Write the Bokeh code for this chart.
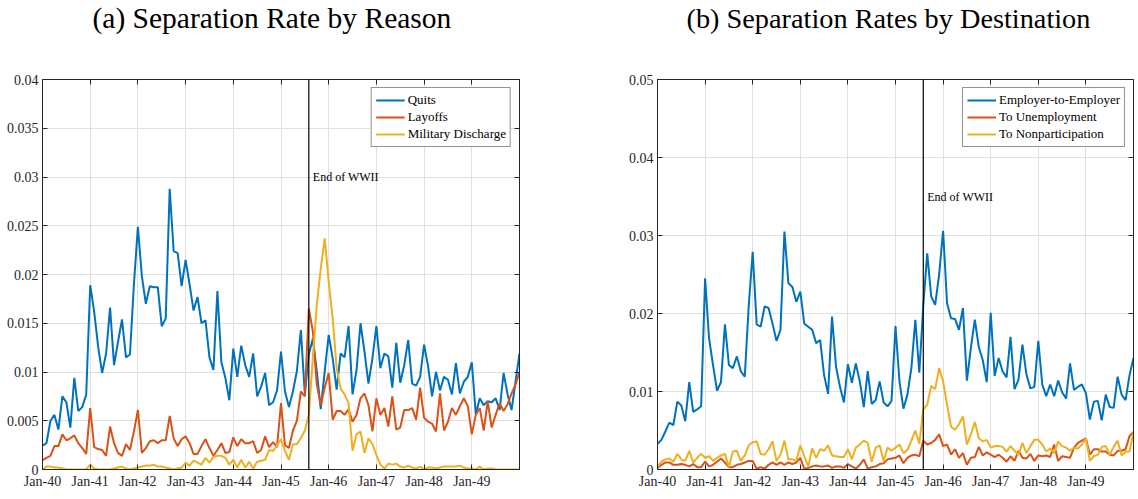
from bokeh.plotting import figure
from bokeh.models import Range1d, FixedTicker, LinearAxis, Span, Label, Legend, LegendItem, Title
from bokeh.layouts import row
from bokeh.embed import file_html
from bokeh.resources import INLINE

# ---------------- data ----------------
months = list(range(121))  # Jan-1940 ... Jan-1950, monthly index
x_ticks = [0, 12, 24, 36, 48, 60, 72, 84, 96, 108]
x_tick_labels = ["Jan-40", "Jan-41", "Jan-42", "Jan-43", "Jan-44",
                 "Jan-45", "Jan-46", "Jan-47", "Jan-48", "Jan-49"]
wwii_end_month = 67  # Aug-45
wwii_label = "End of WWII"

left_title = "(a) Separation Rate by Reason"
left_y_ticks = [0, 0.005, 0.01, 0.015, 0.02, 0.025, 0.03, 0.035, 0.04]
left_y_labels = ["0", "0.005", "0.01", "0.015", "0.02", "0.025", "0.03", "0.035", "0.04"]
left_names = ["Quits", "Layoffs", "Military Discharge"]

quits = [0.00245, 0.0027, 0.005, 0.0056, 0.0041, 0.0075, 0.0069, 0.0043, 0.0094, 0.006, 0.0064, 0.0077,
         0.0189, 0.0162, 0.0126, 0.0099, 0.0119, 0.0166, 0.0107, 0.0131, 0.0154, 0.0115, 0.0118, 0.019,
         0.0249, 0.0198, 0.017, 0.0188, 0.0187, 0.0187, 0.0147, 0.0155, 0.0288, 0.0224, 0.0222, 0.0188,
         0.0215, 0.019, 0.0163, 0.0177, 0.015, 0.0153, 0.0115, 0.0102, 0.0183, 0.011, 0.0094, 0.0071,
         0.0124, 0.0095, 0.0127, 0.0107, 0.0095, 0.0119, 0.0075, 0.0085, 0.0099, 0.0066, 0.0069, 0.0081,
         0.0121, 0.008, 0.0064, 0.008, 0.0101, 0.0143, 0.0077, 0.0118, 0.0134, 0.0101, 0.0062, 0.0101,
         0.0138, 0.0114, 0.0082, 0.0119, 0.0115, 0.0147, 0.0077, 0.0102, 0.015, 0.0121, 0.0088, 0.0114,
         0.0147, 0.0104, 0.0119, 0.0116, 0.0084, 0.013, 0.0089, 0.0107, 0.0133, 0.0088, 0.0086, 0.0095,
         0.0128, 0.0106, 0.0075, 0.01, 0.0081, 0.0095, 0.0092, 0.0077, 0.0109, 0.0078, 0.009, 0.0095,
         0.011, 0.0057, 0.0073, 0.0066, 0.007, 0.0069, 0.0073, 0.0061, 0.0099, 0.0077, 0.0061, 0.009, 0.0119]

layoffs = [0.00095, 0.0012, 0.0014, 0.0024, 0.0024, 0.0036, 0.003, 0.0032, 0.0035, 0.0027, 0.0022, 0.0016,
           0.0063, 0.0023, 0.0021, 0.002, 0.0014, 0.0044, 0.0027, 0.0017, 0.0014, 0.0026, 0.002, 0.0039,
           0.0061, 0.0017, 0.0022, 0.0029, 0.003, 0.0027, 0.003, 0.003, 0.0055, 0.0032, 0.0024, 0.0031,
           0.0034, 0.0027, 0.0016, 0.0016, 0.0024, 0.0031, 0.0022, 0.0014, 0.002, 0.0027, 0.0017, 0.0018,
           0.0033, 0.0024, 0.0031, 0.0027, 0.0027, 0.0029, 0.0017, 0.002, 0.0034, 0.0023, 0.0028, 0.0023,
           0.0068, 0.0025, 0.0022, 0.004, 0.005, 0.008, 0.0075, 0.0165, 0.0142, 0.0087, 0.0066, 0.0084,
           0.0099, 0.0051, 0.006, 0.006, 0.0056, 0.0062, 0.0049, 0.0056, 0.0073, 0.0078, 0.0066, 0.0039,
           0.0073, 0.0056, 0.0063, 0.0044, 0.0075, 0.0041, 0.0043, 0.0061, 0.0061, 0.0063, 0.0051, 0.0084,
           0.0053, 0.0049, 0.0047, 0.0039, 0.0078, 0.004, 0.0049, 0.0063, 0.0056, 0.0065, 0.0073, 0.0065,
           0.0036, 0.0056, 0.0063, 0.004, 0.007, 0.0043, 0.0056, 0.0068, 0.006, 0.0067, 0.0078, 0.0087, 0.01]

military = [0, 0.0003, 0.0003, 0.0002, 0.0002, 0.0001, 0, 0, 0, 0, 0, 0,
            0.0005, 0.0001, 0, 0, 0, 0, 0.0001, 0.0002, 0.0003, 0.0001, 0, 0.0001,
            0.0002, 0.0003, 0.0004, 0.0004, 0.0005, 0.0003, 0.0003, 0.0002, 0.0001, 0, 0.0001, 0.0002,
            0.0007, 0.0004, 0.0009, 0.0007, 0.0005, 0.0012, 0.0007, 0.0013, 0.0014, 0.0014, 0.0012, 0.0005,
            0.001, 0.0002, 0.001, 0.0002, 0.0008, 0.0001, 0.0008, 0.0009, 0.001, 0.002, 0.0019, 0.0025,
            0.0031, 0.0019, 0.001, 0.0026, 0.0026, 0.0032, 0.004, 0.0056, 0.0114, 0.0169, 0.0206, 0.0237,
            0.0193, 0.0155, 0.0104, 0.0083, 0.0077, 0.0068, 0.0019, 0.0036, 0.0039, 0.0017, 0.0032, 0.0026,
            0.0015, 0.0005, 0.0001, 0.0006, 0.0005, 0.0006, 0.0003, 0.0002, 0.0004, 0.0002, 0.0001, 0.0003,
            0, 0.0002, 0.0002, 0.0001, 0.0002, 0.0003, 0.0003, 0.0003, 0.0003, 0.0004, 0.0002, 0.0001,
            0.0001, 0, 0.0003, 0, 0.0001, 0.0001, 0, 0, 0, 0, 0, 0, 0]

right_title = "(b) Separation Rates by Destination"
right_y_ticks = [0, 0.01, 0.02, 0.03, 0.04, 0.05]
right_y_labels = ["0", "0.01", "0.02", "0.03", "0.04", "0.05"]
right_names = ["Employer-to-Employer", "To Unemployment", "To Nonparticipation"]

e2e = [0.0033, 0.0038, 0.0049, 0.006, 0.0057, 0.0087, 0.0082, 0.0062, 0.0112, 0.0074, 0.0077, 0.0081,
       0.0245, 0.0168, 0.0134, 0.0101, 0.0112, 0.0186, 0.0134, 0.013, 0.0145, 0.0126, 0.0119, 0.021,
       0.0279, 0.0186, 0.0183, 0.0209, 0.0207, 0.0187, 0.0165, 0.0179, 0.0305, 0.0239, 0.0234, 0.0215,
       0.0228, 0.0187, 0.0183, 0.0179, 0.0162, 0.0166, 0.0121, 0.0097, 0.0196, 0.0132, 0.0106, 0.0086,
       0.0135, 0.0111, 0.0136, 0.0113, 0.008, 0.0126, 0.0084, 0.0089, 0.0113, 0.0086, 0.0081, 0.0088,
       0.0184, 0.0113, 0.0078, 0.0096, 0.013, 0.0192, 0.0124, 0.021, 0.0277, 0.0222, 0.0211, 0.025,
       0.0306, 0.0213, 0.0194, 0.0193, 0.0179, 0.0207, 0.0114, 0.0156, 0.0192, 0.0157, 0.014, 0.0112,
       0.0201, 0.012, 0.0143, 0.0126, 0.0118, 0.017, 0.0103, 0.0115, 0.016, 0.0122, 0.0104, 0.0106,
       0.0165, 0.0109, 0.0094, 0.0109, 0.0094, 0.0114, 0.0099, 0.0091, 0.0136, 0.0102, 0.0106, 0.0109,
       0.0098, 0.0064, 0.0087, 0.0088, 0.0063, 0.0096, 0.008, 0.0079, 0.0119, 0.0096, 0.0089, 0.0121, 0.0143]

to_unemp = [0.0002, 0.0006, 0.0009, 0.0009, 0.0006, 0.0006, 0.0007, 0.0006, 0.0004, 0.0007, 0.0003, 0.0003,
            0.001, 0.0004, 0.0006, 0.001, 0.0014, 0.0009, 0.0003, 0.0003, 0.0006, 0.0007, 0.0009, 0.0011,
            0.0011, 0.0001, 0.0003, 0.0001, 0.0006, 0.0009, 0.0006, 0.0009, 0.0006, 0.0009, 0.0007, 0.0009,
            0.0015, 0.0001, 0.0002, 0.0004, 0.0005, 0.0004, 0.0004, 0.0005, 0.0002, 0.0004, 0.0004, 0.0002,
            0.0007, 0.0004, 0.0001, 0.0006, 0.0013, 0.0001, 0.0003, 0.0004, 0.0007, 0.0008, 0.0013, 0.0014,
            0.0015, 0.0018, 0.0008, 0.0015, 0.0018, 0.0019, 0.0017, 0.0037, 0.0032, 0.0034, 0.0038, 0.0045,
            0.003, 0.0032, 0.0019, 0.0026, 0.0015, 0.0021, 0.0006, 0.0015, 0.0016, 0.0029, 0.0018, 0.0022,
            0.0019, 0.0016, 0.0019, 0.0015, 0.001, 0.0017, 0.0011, 0.0024, 0.0015, 0.0014, 0.002, 0.0011,
            0.0018, 0.0017, 0.0018, 0.0016, 0.0032, 0.0011, 0.0017, 0.0016, 0.0015, 0.0028, 0.0034, 0.0037,
            0.004, 0.0019, 0.0026, 0.0026, 0.0023, 0.0023, 0.0019, 0.0018, 0.0024, 0.0024, 0.0026, 0.0043, 0.0048]

to_nonpart = [0.0004, 0.001, 0.0013, 0.0014, 0.001, 0.002, 0.0013, 0.0011, 0.0024, 0.0009, 0.0015, 0.002,
              0.0015, 0.0017, 0.0011, 0.0015, 0.0018, 0.002, 0.0003, 0.0023, 0.0024, 0.0011, 0.0018, 0.0031,
              0.0035, 0.0036, 0.002, 0.0019, 0.0026, 0.0036, 0.0011, 0.0019, 0.0037, 0.0013, 0.0013, 0.0011,
              0.0031, 0.0017, 0.0004, 0.0027, 0.0015, 0.0026, 0.0024, 0.0031, 0.0018, 0.0017, 0.0016, 0.0016,
              0.0026, 0.0013, 0.0028, 0.0032, 0.0037, 0.0034, 0.001, 0.0028, 0.0031, 0.0011, 0.0028, 0.0024,
              0.0028, 0.0032, 0.0021, 0.0025, 0.0037, 0.005, 0.0033, 0.0077, 0.0083, 0.0107, 0.0103, 0.013,
              0.0113, 0.0083, 0.0055, 0.0051, 0.0058, 0.0068, 0.0032, 0.0045, 0.0061, 0.004, 0.0036, 0.0038,
              0.0028, 0.003, 0.003, 0.0029, 0.0023, 0.003, 0.0024, 0.0019, 0.0034, 0.0021, 0.003, 0.0038,
              0.0038, 0.0032, 0.0023, 0.0027, 0.0021, 0.0036, 0.003, 0.0028, 0.0024, 0.0028, 0.0027, 0.0032,
              0.004, 0.0011, 0.0017, 0.0019, 0.0029, 0.003, 0.0019, 0.0029, 0.0037, 0.0018, 0.0023, 0.0023, 0.0048]

# ---------------- style ----------------
FONT = "Liberation Serif"
COLORS = ["#0072BD", "#D95319", "#EDB120"]
AXIS_COLOR = "#262626"
GRID_COLOR = "#e0e0e0"


def style_axis(ax, show_labels=True):
    ax.axis_line_color = AXIS_COLOR
    ax.axis_line_width = 1
    ax.major_tick_in = 5
    ax.major_tick_out = 0
    ax.minor_tick_in = 0
    ax.minor_tick_out = 0
    ax.major_tick_line_color = AXIS_COLOR
    ax.major_label_text_font = FONT
    if show_labels:
        ax.major_label_text_color = AXIS_COLOR
        ax.major_label_text_font_size = "14px"
        ax.major_label_standoff = 4
    else:
        ax.major_label_text_color = None
        ax.major_label_text_font_size = "0px"
        ax.major_label_standoff = 0


def make_panel(title, title_size, ymax, yticks, ylabels, series, names, label_y,
               frame_w, border_left, border_right, title_offset):
    p = figure(frame_width=frame_w, frame_height=390,
               x_range=Range1d(0, 120), y_range=Range1d(0, ymax),
               output_backend="svg", toolbar_location=None,
               min_border_left=border_left, min_border_right=border_right,
               min_border_top=79, min_border_bottom=21)
    p.background_fill_color = "white"
    p.border_fill_color = "white"
    p.outline_line_color = AXIS_COLOR
    p.outline_line_width = 1

    xt = FixedTicker(ticks=x_ticks)
    yt = FixedTicker(ticks=yticks)
    xover = {t: l for t, l in zip(x_ticks, x_tick_labels)}
    yover = {t: l for t, l in zip(yticks, ylabels)}

    p.xaxis[0].ticker = xt
    p.xaxis[0].major_label_overrides = xover
    p.yaxis[0].ticker = yt
    p.yaxis[0].major_label_overrides = yover
    style_axis(p.xaxis[0])
    style_axis(p.yaxis[0])

    top = LinearAxis(ticker=xt)
    right = LinearAxis(ticker=yt)
    style_axis(top, False)
    style_axis(right, False)
    p.add_layout(top, "above")
    p.add_layout(right, "right")

    # blank spacer between the top axis and the title
    p.add_layout(Title(text=" ", text_font_size="1px", standoff=41), "above")

    p.xgrid.ticker = xt
    p.ygrid.ticker = yt
    p.grid.grid_line_color = GRID_COLOR
    p.grid.grid_line_width = 1

    p.title.text = title
    p.title.align = "left"
    p.title.offset = title_offset
    p.title.vertical_align = "top"
    p.title.standoff = 0
    p.title.text_font = FONT
    p.title.text_font_size = title_size
    p.title.text_font_style = "normal"
    p.title.text_color = "black"

    items = []
    for vals, name, col in zip(series, names, COLORS):
        r = p.line(months, vals, line_color=col, line_width=2)
        items.append(LegendItem(label=name, renderers=[r]))

    p.add_layout(Span(location=wwii_end_month, dimension="height",
                      line_color="black", line_width=1.2))
    p.add_layout(Label(x=wwii_end_month, y=label_y, text=wwii_label, x_offset=4,
                       text_baseline="middle", text_font=FONT,
                       text_font_size="12px", text_color="black"))

    leg = Legend(items=items, location="top_right")
    leg.margin = 8
    leg.padding = 4
    leg.spacing = 1
    leg.label_height = 16
    leg.glyph_height = 16
    leg.glyph_width = 29
    leg.label_standoff = 3
    leg.label_text_font = FONT
    leg.label_text_font_size = "13px"
    leg.label_text_color = "black"
    leg.border_line_color = AXIS_COLOR
    leg.border_line_width = 1
    leg.background_fill_color = "white"
    leg.background_fill_alpha = 1
    p.add_layout(leg, "center")
    return p


p1 = make_panel(left_title, "29.5px", 0.04, left_y_ticks, left_y_labels,
                [quits, layoffs, military], left_names, 0.03,
                477, 42, 46, 50)
p2 = make_panel(right_title, "28.3px", 0.05, right_y_ticks, right_y_labels,
                [e2e, to_unemp, to_nonpart], right_names, 0.035,
                476, 92, 1, 29)

layout = row(p1, p2)
open("out.html", "w").write(file_html(layout, INLINE))
